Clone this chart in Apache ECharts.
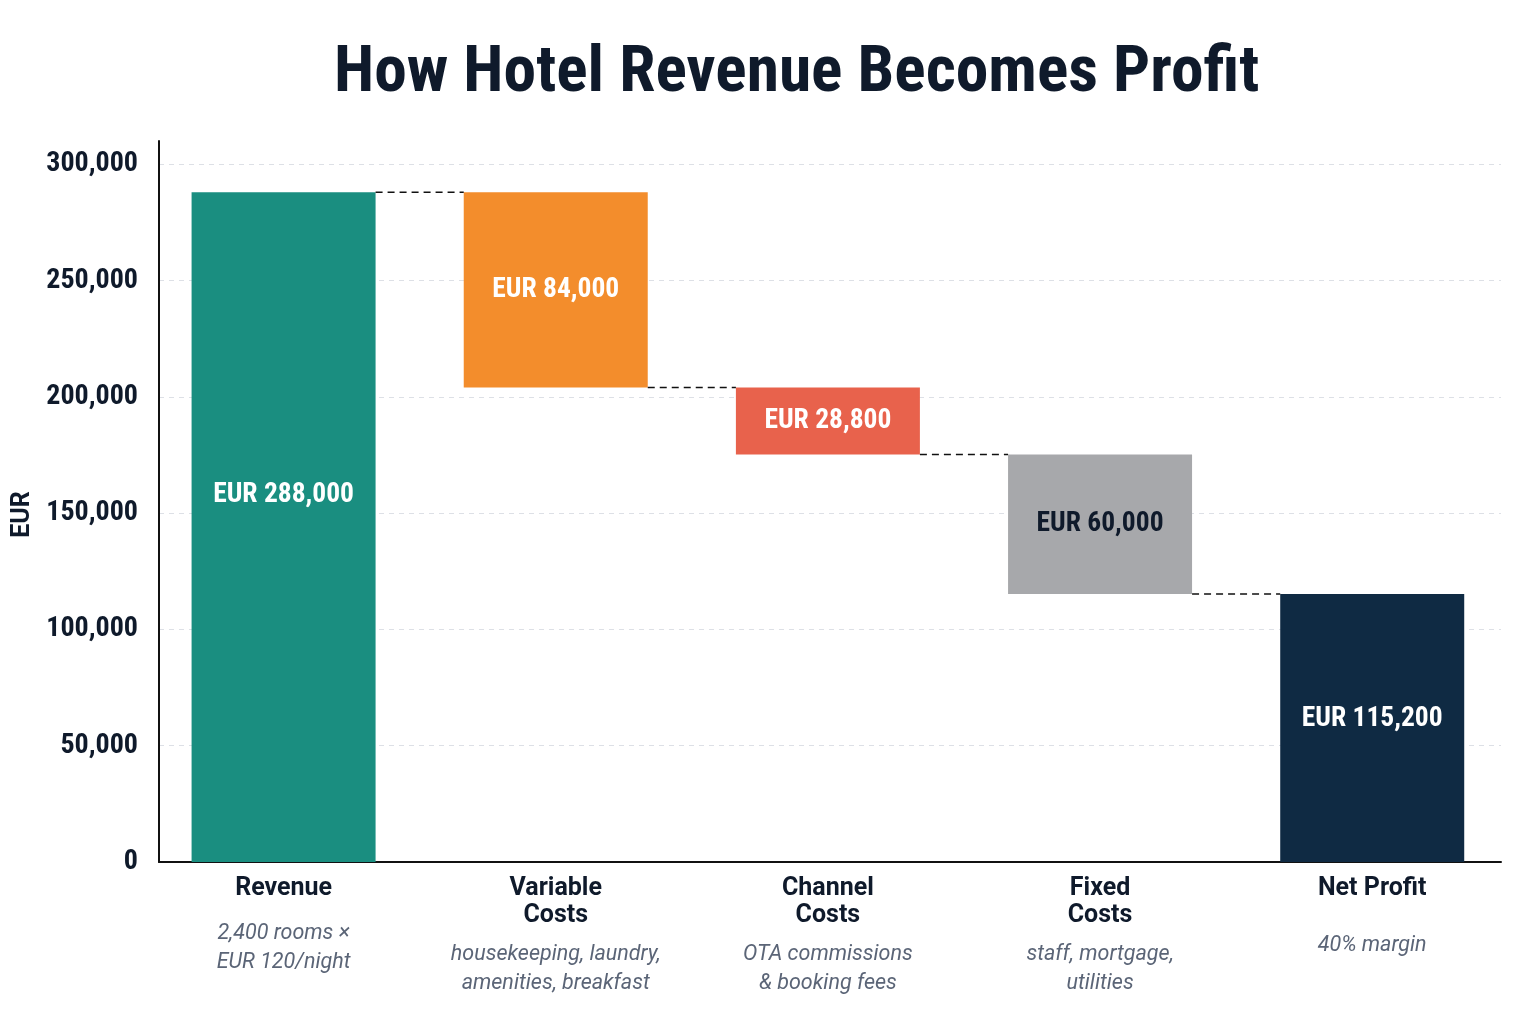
<!DOCTYPE html>
<html>
<head>
<meta charset="utf-8">
<script src="https://cdn.jsdelivr.net/npm/echarts@6/dist/echarts.min.js"></script>
<style>
html,body{margin:0;padding:0;background:#fff;}
#chart{width:1536px;height:1024px;}
</style>
</head>
<body>
<div id="chart"></div>
<script>
const categories = ['Revenue', 'Variable\nCosts', 'Channel\nCosts', 'Fixed\nCosts', 'Net Profit'];
const subtitles = [
  ['2,400 rooms \u00d7', 'EUR 120/night'],
  ['housekeeping, laundry,', 'amenities, breakfast'],
  ['OTA commissions', '& booking fees'],
  ['staff, mortgage,', 'utilities'],
  ['40% margin']
];
const amounts = [288000, 84000, 28800, 60000, 115200];
const kinds = ['total', 'decrease', 'decrease', 'decrease', 'total'];
const barColors = ['#1a8e80', '#f38d2c', '#e8624c', '#a7a8ab', '#0f2a43'];
const labelColors = ['#ffffff', '#ffffff', '#ffffff', '#0f1a2b', '#ffffff'];
const yTicks = [0, 50000, 100000, 150000, 200000, 250000, 300000];

const COND = "'Roboto Condensed', 'Liberation Sans Narrow', sans-serif";
const REG = "Roboto, 'Liberation Sans', sans-serif";
const BAR_W = 184;
const Y_MAX = 310000;

// waterfall bases
const bases = [];
let running = 0;
amounts.forEach((v, i) => {
  if (kinds[i] === 'total') { bases.push(0); running = v; }
  else { running -= v; bases.push(running); }
});
// connector levels: top of next bar
const connectors = [];
for (let i = 0; i < amounts.length - 1; i++) {
  connectors.push([i, bases[i + 1] + amounts[i + 1]]);
}

const fmt = n => n.toLocaleString('en-US');
const gapH = [17, 11, 11, 11, 29];

const chart = echarts.init(document.getElementById('chart'), null, {renderer: 'canvas'});
chart.setOption({
  backgroundColor: '#ffffff',
  animation: false,
  title: {
    text: 'How Hotel Revenue Becomes Profit',
    left: 329,
    top: 37,
    textStyle: {fontFamily: COND, fontWeight: 'bold', fontSize: 65.5, color: '#0f1a2b'}
  },
  grid: [
    {left: 159, right: 35, top: 141, bottom: 162, containLabel: false},
    {left: 147.5, right: 27.7, top: 141, bottom: 162, containLabel: false}
  ],
  xAxis: [
    {
      gridIndex: 0,
      type: 'category',
      data: categories,
      axisLine: {show: true, lineStyle: {color: '#111111', width: 2}},
      axisTick: {show: false},
      axisLabel: {show: false},
      splitLine: {show: false}
    },
    {
      gridIndex: 1,
      type: 'category',
      data: categories,
      axisLine: {show: false},
      axisTick: {show: false},
      splitLine: {show: false},
      axisLabel: {
        interval: 0,
        margin: 13,
        formatter: (val, idx) => {
          const t = val.split('\n').map(s => '{t|' + s + '}').join('\n');
          const s = subtitles[idx].map(x => '{s|' + x + '}').join('\n');
          return t + '\n{g' + idx + '|\u00a0}\n' + s;
        },
        rich: {
          t: {fontFamily: REG, fontWeight: 'bold', fontSize: 25, lineHeight: 27, color: '#0f1a2b', align: 'center'},
          s: {fontFamily: REG, fontStyle: 'italic', fontSize: 21.5, lineHeight: 29, color: '#5b6577', align: 'center'},
          g0: {fontSize: 1, lineHeight: gapH[0]},
          g1: {fontSize: 1, lineHeight: gapH[1]},
          g2: {fontSize: 1, lineHeight: gapH[2]},
          g3: {fontSize: 1, lineHeight: gapH[3]},
          g4: {fontSize: 1, lineHeight: gapH[4]}
        }
      }
    }
  ],
  yAxis: [
    {
      gridIndex: 0,
      type: 'value',
      min: 0,
      max: Y_MAX,
      interval: 50000,
      name: 'EUR',
      nameLocation: 'middle',
      nameGap: 119,
      nameRotate: 90,
      nameTextStyle: {fontFamily: REG, fontWeight: 'bold', fontSize: 25, color: '#0f1a2b', padding: [0, 26, 0, 0]},
      axisLine: {show: true, lineStyle: {color: '#111111', width: 2}},
      axisTick: {show: false},
      axisLabel: {
        margin: 21,
        showMaxLabel: false,
        fontFamily: COND, fontWeight: 'bold', fontSize: 28, color: '#0f1a2b',
        formatter: v => (yTicks.indexOf(v) >= 0 ? fmt(v) : '')
      },
      splitLine: {show: true, showMaxLine: false, lineStyle: {color: '#dde0e6', type: [5, 5], width: 1}}
    },
    {
      gridIndex: 1,
      type: 'value',
      min: 0,
      max: Y_MAX,
      show: false,
      splitLine: {show: false}
    }
  ],
  series: [
    {
      type: 'bar',
      xAxisIndex: 1,
      yAxisIndex: 1,
      stack: 'w',
      barWidth: BAR_W,
      silent: true,
      itemStyle: {color: 'transparent'},
      data: bases
    },
    {
      type: 'bar',
      xAxisIndex: 1,
      yAxisIndex: 1,
      stack: 'w',
      barWidth: BAR_W,
      data: amounts.map((v, i) => ({
        value: v,
        itemStyle: {color: barColors[i]},
        label: {
          color: labelColors[i],
          offset: i === 0 ? [0, -32] : (i === 4 ? [0, -9] : [0, 0])
        }
      })),
      label: {
        show: true,
        position: 'inside',
        fontFamily: COND,
        fontWeight: 'bold',
        fontSize: 27.5,
        formatter: p => 'EUR ' + fmt(p.value)
      },
      z: 3
    },
    {
      type: 'custom',
      xAxisIndex: 1,
      yAxisIndex: 1,
      silent: true,
      data: connectors,
      encode: {x: 0, y: 1},
      renderItem: (params, api) => {
        const i = api.value(0);
        const v = api.value(1);
        const p1 = api.coord([i, v]);
        const p2 = api.coord([i + 1, v]);
        return {
          type: 'line',
          shape: {x1: p1[0] + BAR_W / 2, y1: p1[1], x2: p2[0] - BAR_W / 2, y2: p2[1]},
          style: {stroke: '#111111', lineWidth: 1.5, lineDash: [7, 5]}
        };
      },
      z: 4
    }
  ]
});
</script>
</body>
</html>
